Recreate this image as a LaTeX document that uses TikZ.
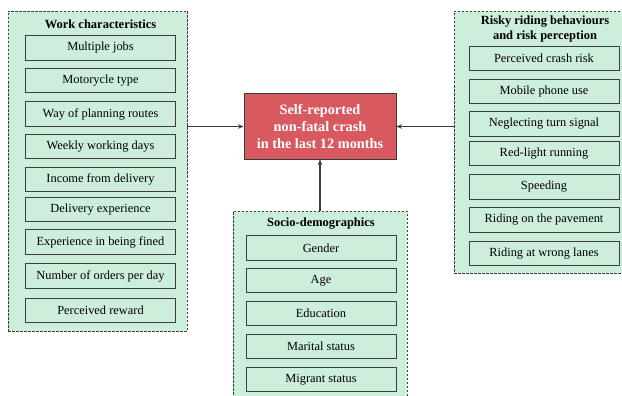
\documentclass[tikz,border=0pt]{standalone}
\usepackage{fontspec}
\setmainfont{Liberation Serif}
\usetikzlibrary{arrows.meta}
\definecolor{grpfill}{RGB}{205,238,218}
\definecolor{boxfill}{RGB}{205,238,218}
\definecolor{edgecol}{RGB}{60,60,60}
\definecolor{crash}{RGB}{216,90,96}
\tikzset{
  item/.style={draw=edgecol, line width=0.9pt, fill=boxfill, minimum width=150pt,
    minimum height=24.5pt, inner sep=0pt, font=\fontsize{12.4}{14}\selectfont},
  group/.style={draw=edgecol, line width=0.8pt, dash pattern=on 2.5pt off 1.5pt,
    fill=grpfill, inner sep=0pt},
  gtitle/.style={font=\fontsize{12.5}{15}\selectfont\bfseries, align=center, inner sep=0pt},
  arr/.style={draw=edgecol, line width=1.3pt, -{Stealth[length=5.5pt,width=4.5pt]}}
}
\begin{document}
\begin{tikzpicture}[x=1pt,y=-1pt]
\useasboundingbox (0,0) rectangle (622,396);
% groups
\node[group, minimum width=179pt, minimum height=320pt] (gw) at (97.5,171) {};
\node[group, minimum width=174pt, minimum height=199pt] (gs) at (320,310.5) {};
\node[group, minimum width=172pt, minimum height=262pt] (gr) at (540,142) {};
% titles
\node[gtitle] (tw) at (100.5,24) {Work characteristics};
\node[gtitle] (ts) at (321,224) {Socio-demographics};
\node[gtitle] (tr) at (545,28.5) {Risky riding behaviours\\and risk perception};
% work items
\node[item] (w1) at (100.5,48) {Multiple jobs};
\node[item] (w2) at (100.5,80.5) {Motorycle type};
\node[item] (w3) at (100.5,114) {Way of planning routes};
\node[item] (w4) at (100.5,146.5) {Weekly working days};
\node[item] (w5) at (100.5,179.5) {Income from delivery};
\node[item] (w6) at (100.5,209.5) {Delivery experience};
\node[item] (w7) at (100.5,242) {Experience in being fined};
\node[item] (w8) at (100.5,276) {Number of orders per day};
\node[item] (w9) at (100.5,310.5) {Perceived reward};
% socio items
\node[item] (s1) at (321,248) {Gender};
\node[item] (s2) at (321,280.5) {Age};
\node[item] (s3) at (321,313.5) {Education};
\node[item] (s4) at (321,346.5) {Marital status};
\node[item] (s5) at (321,379.5) {Migrant status};
% risky items
\node[item] (r1) at (544,58.5) {Perceived crash risk};
\node[item] (r2) at (544,91.5) {Mobile phone use};
\node[item] (r3) at (544,124) {Neglecting turn signal};
\node[item] (r4) at (544,153.5) {Red-light running};
\node[item] (r5) at (544,187) {Speeding};
\node[item] (r6) at (544,220) {Riding on the pavement};
\node[item] (r7) at (544,253.5) {Riding at wrong lanes};
% outcome
\node[draw=edgecol, line width=1pt, fill=crash, text=white, minimum width=152pt,
  minimum height=65pt, inner sep=0pt, align=center,
  font=\fontsize{14.3}{17}\selectfont\bfseries] (c) at (320,126.5)
  {Self-reported\\non-fatal crash\\in the last 12 months};
% connectors
\draw[arr] (c.west -| gw.east) -- (c.west);
\draw[arr] (c.east -| gr.west) -- (c.east);
\draw[arr] (gs.north) -- (c.south);
\end{tikzpicture}
\end{document}
